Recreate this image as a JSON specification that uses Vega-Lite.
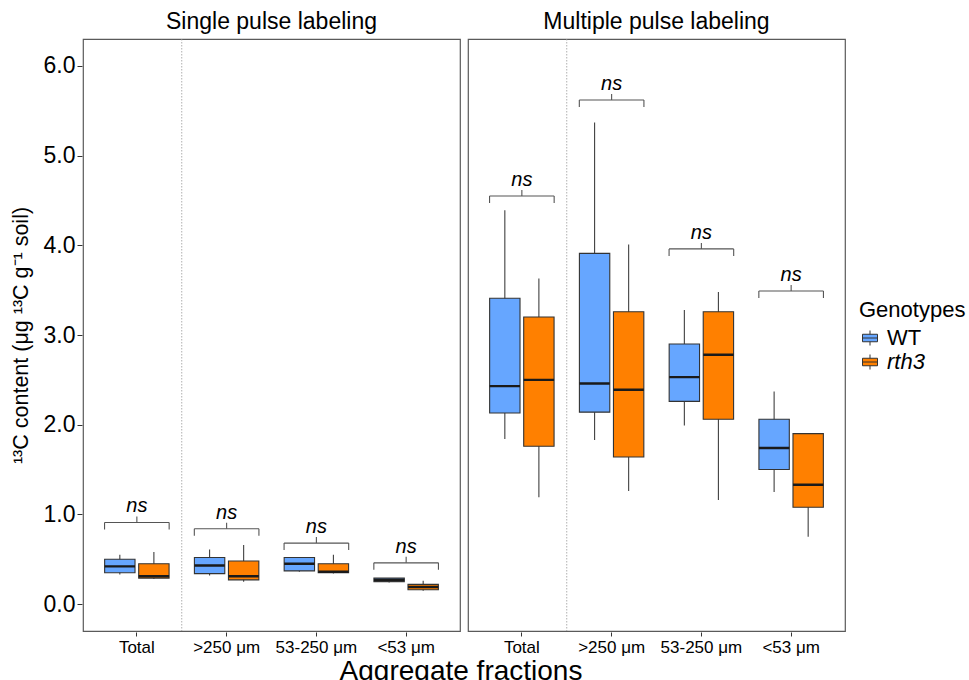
{
  "$schema": "https://vega.github.io/schema/vega-lite/v6.json",
  "background": "white",
  "padding": {"left": 10, "top": 11, "right": 5, "bottom": 0},
  "title": {"text": "Aggregate fractions", "orient": "bottom", "anchor": "middle", "fontSize": 28, "fontWeight": "normal", "color": "black", "offset": 3, "dx": -27, "font": "Liberation Sans"},
  "config": {
    "font": "Liberation Sans",
    "view": {"stroke": "#5a5a5a", "strokeWidth": 1.2},
    "facet": {"spacing": 6},
    "axis": {"grid": false}
  },
  "data": {
    "values": [
      {"kind": "box", "panel": "Single pulse labeling", "fraction": "Total", "genotype": "WT", "min": 0.33, "q1": 0.35, "median": 0.42, "q3": 0.50, "max": 0.55},
      {"kind": "box", "panel": "Single pulse labeling", "fraction": "Total", "genotype": "rth3", "min": 0.28, "q1": 0.29, "median": 0.31, "q3": 0.45, "max": 0.58},
      {"kind": "box", "panel": "Single pulse labeling", "fraction": ">250 μm", "genotype": "WT", "min": 0.32, "q1": 0.34, "median": 0.43, "q3": 0.52, "max": 0.61},
      {"kind": "box", "panel": "Single pulse labeling", "fraction": ">250 μm", "genotype": "rth3", "min": 0.25, "q1": 0.27, "median": 0.31, "q3": 0.48, "max": 0.66},
      {"kind": "box", "panel": "Single pulse labeling", "fraction": "53-250 μm", "genotype": "WT", "min": 0.36, "q1": 0.37, "median": 0.45, "q3": 0.52, "max": 0.52},
      {"kind": "box", "panel": "Single pulse labeling", "fraction": "53-250 μm", "genotype": "rth3", "min": 0.34, "q1": 0.35, "median": 0.36, "q3": 0.45, "max": 0.55},
      {"kind": "box", "panel": "Single pulse labeling", "fraction": "<53 μm", "genotype": "WT", "min": 0.24, "q1": 0.25, "median": 0.27, "q3": 0.29, "max": 0.29},
      {"kind": "box", "panel": "Single pulse labeling", "fraction": "<53 μm", "genotype": "rth3", "min": 0.15, "q1": 0.16, "median": 0.19, "q3": 0.22, "max": 0.26},
      {"kind": "box", "panel": "Multiple pulse labeling", "fraction": "Total", "genotype": "WT", "min": 1.84, "q1": 2.13, "median": 2.43, "q3": 3.41, "max": 4.39},
      {"kind": "box", "panel": "Multiple pulse labeling", "fraction": "Total", "genotype": "rth3", "min": 1.19, "q1": 1.76, "median": 2.50, "q3": 3.20, "max": 3.63},
      {"kind": "box", "panel": "Multiple pulse labeling", "fraction": ">250 μm", "genotype": "WT", "min": 1.83, "q1": 2.14, "median": 2.46, "q3": 3.91, "max": 5.37},
      {"kind": "box", "panel": "Multiple pulse labeling", "fraction": ">250 μm", "genotype": "rth3", "min": 1.26, "q1": 1.64, "median": 2.39, "q3": 3.26, "max": 4.01},
      {"kind": "box", "panel": "Multiple pulse labeling", "fraction": "53-250 μm", "genotype": "WT", "min": 1.99, "q1": 2.26, "median": 2.53, "q3": 2.90, "max": 3.28},
      {"kind": "box", "panel": "Multiple pulse labeling", "fraction": "53-250 μm", "genotype": "rth3", "min": 1.16, "q1": 2.06, "median": 2.78, "q3": 3.26, "max": 3.48},
      {"kind": "box", "panel": "Multiple pulse labeling", "fraction": "<53 μm", "genotype": "WT", "min": 1.25, "q1": 1.50, "median": 1.74, "q3": 2.06, "max": 2.37},
      {"kind": "box", "panel": "Multiple pulse labeling", "fraction": "<53 μm", "genotype": "rth3", "min": 0.75, "q1": 1.08, "median": 1.33, "q3": 1.90, "max": 1.90},
      {"kind": "bracket", "panel": "Single pulse labeling", "fraction": "Total", "level": 0.91, "label": "ns"},
      {"kind": "bracket", "panel": "Single pulse labeling", "fraction": ">250 μm", "level": 0.84, "label": "ns"},
      {"kind": "bracket", "panel": "Single pulse labeling", "fraction": "53-250 μm", "level": 0.68, "label": "ns"},
      {"kind": "bracket", "panel": "Single pulse labeling", "fraction": "<53 μm", "level": 0.46, "label": "ns"},
      {"kind": "bracket", "panel": "Multiple pulse labeling", "fraction": "Total", "level": 4.55, "label": "ns"},
      {"kind": "bracket", "panel": "Multiple pulse labeling", "fraction": ">250 μm", "level": 5.62, "label": "ns"},
      {"kind": "bracket", "panel": "Multiple pulse labeling", "fraction": "53-250 μm", "level": 3.96, "label": "ns"},
      {"kind": "bracket", "panel": "Multiple pulse labeling", "fraction": "<53 μm", "level": 3.49, "label": "ns"},
      {"kind": "sep", "panel": "Single pulse labeling", "fraction": ">250 μm"},
      {"kind": "sep", "panel": "Multiple pulse labeling", "fraction": ">250 μm"}
    ]
  },
  "facet": {
    "column": {
      "field": "panel",
      "type": "nominal",
      "sort": ["Single pulse labeling", "Multiple pulse labeling"],
      "header": {"title": null, "labelFontSize": 23, "labelColor": "black", "labelPadding": 4}
    }
  },
  "spec": {
    "width": 377,
    "height": 592,
    "encoding": {
      "x": {
        "field": "fraction",
        "type": "nominal",
        "sort": ["Total", ">250 μm", "53-250 μm", "<53 μm"],
        "scale": {"paddingInner": 0, "paddingOuter": 0.1},
        "axis": {"title": null, "labelAngle": 0, "labelFontSize": 17, "labelColor": "black", "domain": false, "tickColor": "#333", "tickSize": 4, "labelPadding": 3}
      }
    },
    "layer": [
      {
        "transform": [{"filter": "datum.kind === 'sep'"}],
        "mark": {"type": "rule", "color": "#9a9a9a", "strokeWidth": 0.8, "strokeDash": [1.5, 1.5]},
        "encoding": {
          "x": {"field": "fraction", "type": "nominal", "sort": ["Total", ">250 μm", "53-250 μm", "<53 μm"], "bandPosition": 0}
        }
      },
      {
        "transform": [{"filter": "datum.kind === 'box'"}],
        "mark": {"type": "rule", "color": "#404040", "strokeWidth": 1.1},
        "encoding": {
          "xOffset": {"field": "genotype", "type": "nominal", "sort": ["WT", "rth3"], "scale": {"paddingInner": 0.108, "paddingOuter": 0.372}},
          "y": {"field": "min", "type": "quantitative", "scale": {"domain": [-0.3, 6.3], "nice": false, "zero": false}, "axis": {"title": "¹³C content (μg ¹³C g⁻¹ soil)", "values": [0, 1, 2, 3, 4, 5, 6], "format": ".1f", "labelFontSize": 23, "labelColor": "black", "titleFontSize": 21.5, "titleFontWeight": "normal", "titleColor": "black", "titlePadding": 11, "domain": false, "tickColor": "#333", "tickSize": 5, "labelPadding": 2}},
          "y2": {"field": "max"}
        }
      },
      {
        "transform": [{"filter": "datum.kind === 'box'"}],
        "mark": {"type": "bar", "stroke": "#333333", "strokeWidth": 1.1, "opacity": 1},
        "encoding": {
          "xOffset": {"field": "genotype", "type": "nominal", "sort": ["WT", "rth3"]},
          "y": {"field": "q1", "type": "quantitative", "axis": {"title": "¹³C content (μg ¹³C g⁻¹ soil)"}},
          "y2": {"field": "q3"},
          "color": {
            "field": "genotype",
            "type": "nominal",
            "scale": {"domain": ["WT", "rth3"], "range": ["#66A6FF", "#FF8000"]},
            "legend": {
              "title": "Genotypes",
              "orient": "none",
              "legendX": 776,
              "legendY": 261,
              "titleFontSize": 22,
              "titleFontWeight": "normal",
              "titleColor": "black",
              "titlePadding": 5,
              "labelFontSize": 22,
              "labelColor": "black",
              "labelOffset": 6,
              "labelFontStyle": {"expr": "datum.value === 'rth3' ? 'italic' : 'normal'"},
              "symbolType": "M-1,-0.5H1V0.5H-1Z M-1,0H1 M0,-0.5V-1 M0,0.5V1",
              "symbolSize": 225,
              "symbolStrokeColor": "#333",
              "symbolStrokeWidth": 1,
              "rowPadding": 2,
              "encode": {"labels": {"update": {"fontStyle": {"signal": "datum.value === 'rth3' ? 'italic' : 'normal'"}}}}
            }
          }
        }
      },
      {
        "transform": [{"filter": "datum.kind === 'box'"}],
        "mark": {"type": "bar", "fill": "transparent", "stroke": "#1a1a1a", "strokeWidth": 2.4},
        "encoding": {
          "xOffset": {"field": "genotype", "type": "nominal", "sort": ["WT", "rth3"]},
          "y": {"field": "median", "type": "quantitative", "axis": {"title": "¹³C content (μg ¹³C g⁻¹ soil)"}},
          "y2": {"field": "median"}
        }
      },
      {
        "transform": [{"filter": "datum.kind === 'bracket'"}],
        "mark": {"type": "bar", "fill": "transparent", "stroke": "#555555", "strokeWidth": 1.1, "width": {"band": 0.72}},
        "encoding": {
          "y": {"field": "level", "type": "quantitative", "axis": {"title": "¹³C content (μg ¹³C g⁻¹ soil)"}},
          "y2": {"field": "level"}
        }
      },
      {
        "transform": [{"filter": "datum.kind === 'bracket'"}],
        "mark": {"type": "rule", "color": "#555555", "strokeWidth": 1.1, "xOffset": -32.3, "y2Offset": 7},
        "encoding": {
          "y": {"field": "level", "type": "quantitative", "axis": {"title": "¹³C content (μg ¹³C g⁻¹ soil)"}},
          "y2": {"field": "level"}
        }
      },
      {
        "transform": [{"filter": "datum.kind === 'bracket'"}],
        "mark": {"type": "rule", "color": "#555555", "strokeWidth": 1.1, "xOffset": 32.3, "y2Offset": 7},
        "encoding": {
          "y": {"field": "level", "type": "quantitative", "axis": {"title": "¹³C content (μg ¹³C g⁻¹ soil)"}},
          "y2": {"field": "level"}
        }
      },
      {
        "transform": [{"filter": "datum.kind === 'bracket'"}],
        "mark": {"type": "rule", "color": "#555555", "strokeWidth": 1.1, "y2Offset": -6},
        "encoding": {
          "y": {"field": "level", "type": "quantitative", "axis": {"title": "¹³C content (μg ¹³C g⁻¹ soil)"}},
          "y2": {"field": "level"}
        }
      },
      {
        "transform": [{"filter": "datum.kind === 'bracket'"}],
        "mark": {"type": "text", "fontSize": 20, "fontStyle": "italic", "color": "black", "baseline": "alphabetic", "dy": -10},
        "encoding": {
          "y": {"field": "level", "type": "quantitative", "axis": {"title": "¹³C content (μg ¹³C g⁻¹ soil)"}},
          "text": {"field": "label"}
        }
      }
    ]
  }
}
